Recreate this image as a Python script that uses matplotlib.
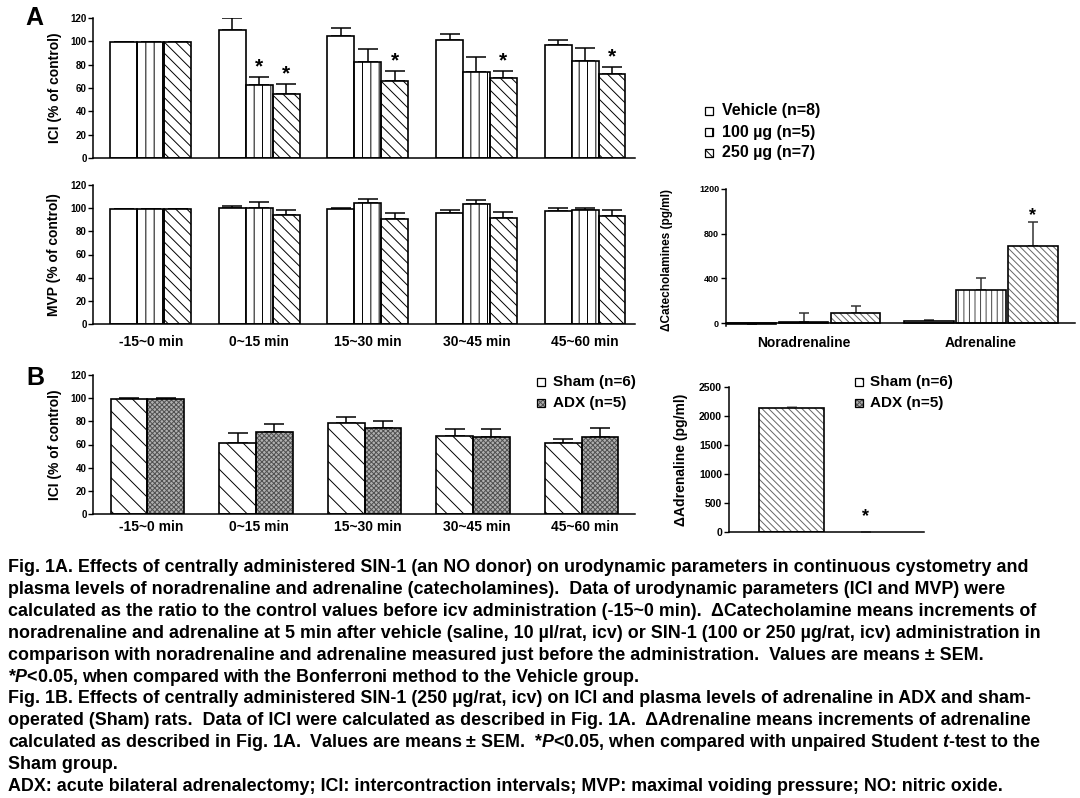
import numpy as np
import matplotlib
matplotlib.use("Agg")
import matplotlib.pyplot as plt
from matplotlib.patches import Rectangle

plt.rcParams['font.family'] = ['Liberation Sans', 'DejaVu Sans']
plt.rcParams['font.weight'] = 'bold'
plt.rcParams['mathtext.fontset'] = 'custom'
plt.rcParams['mathtext.rm'] = 'Liberation Sans:bold'
plt.rcParams['mathtext.it'] = 'Liberation Sans:bold:italic'
plt.rcParams['mathtext.bf'] = 'Liberation Sans:bold'
plt.rcParams['hatch.linewidth'] = 0.7

W, H = 1080, 798

# ---- data ----
periods = ['-15~0 min', '0~15 min', '15~30 min', '30~45 min', '45~60 min']

# Fig 1A, ICI (% of control)
ici_veh = [99.3, 110.0, 104.5, 101.5, 96.5]
ici_veh_sem = [0.5, 10.0, 7.0, 4.5, 5.0]
ici_100 = [99.3, 62.3, 82.4, 73.8, 83.3]
ici_100_sem = [0.5, 7.2, 11.0, 12.6, 11.0]
ici_250 = [99.3, 54.5, 66.0, 68.3, 71.8]
ici_250_sem = [0.5, 9.2, 8.6, 6.6, 6.3]
ici_sig = [(1, 1), (1, 2), (2, 2), (3, 2), (4, 2)]  # (period, group)

# Fig 1A, MVP (% of control)
mvp_veh = [99.0, 99.9, 99.0, 96.0, 97.6]
mvp_veh_sem = [0.3, 2.0, 0.9, 2.0, 2.9]
mvp_100 = [99.0, 99.9, 104.2, 103.6, 98.7]
mvp_100_sem = [0.3, 5.5, 3.7, 3.4, 1.8]
mvp_250 = [99.0, 93.8, 90.9, 91.2, 93.2]
mvp_250_sem = [0.3, 4.3, 5.2, 5.5, 5.5]

# Fig 1A, delta catecholamines (pg/ml)
cat_names = ['Noradrenaline', 'Adrenaline']
cat_veh = [-8, 22]
cat_veh_sem = [3, 3]
cat_100 = [5, 300]
cat_100_sem = [88, 105]
cat_250 = [93, 686]
cat_250_sem = [63, 215]

# Fig 1B, ICI (% of control)
b_sham = [99.3, 61.2, 78.4, 67.2, 60.9]
b_sham_sem = [0.5, 8.8, 5.1, 6.0, 3.7]
b_adx = [99.3, 70.9, 74.6, 66.9, 66.3]
b_adx_sem = [0.5, 6.9, 5.5, 6.6, 7.7]

# Fig 1B, delta adrenaline (pg/ml)
adr_groups = ['Sham', 'ADX']
adr_vals = [2140, 5]
adr_sem = [10, 0]

legend_a = ['Vehicle (n=8)', '100 µg (n=5)', '250 µg (n=7)']
legend_b = ['Sham (n=6)', 'ADX (n=5)']

caption = [
    "Fig. 1A. Effects of centrally administered SIN-1 (an NO donor) on urodynamic parameters in continuous cystometry and",
    "plasma levels of noradrenaline and adrenaline (catecholamines).  Data of urodynamic parameters (ICI and MVP) were",
    "calculated as the ratio to the control values before icv administration (-15~0 min).  ΔCatecholamine means increments of",
    "noradrenaline and adrenaline at 5 min after vehicle (saline, 10 µl/rat, icv) or SIN-1 (100 or 250 µg/rat, icv) administration in",
    "comparison with noradrenaline and adrenaline measured just before the administration.  Values are means ± SEM.",
    r"*$\mathit{P}$<0.05, when compared with the Bonferroni method to the Vehicle group.",
    "Fig. 1B. Effects of centrally administered SIN-1 (250 µg/rat, icv) on ICI and plasma levels of adrenaline in ADX and sham-",
    "operated (Sham) rats.  Data of ICI were calculated as described in Fig. 1A.  ΔAdrenaline means increments of adrenaline",
    r"calculated as described in Fig. 1A.  Values are means ± SEM.  *$\mathit{P}$<0.05, when compared with unpaired Student $\mathit{t}$-test to the",
    "Sham group.",
    "ADX: acute bilateral adrenalectomy; ICI: intercontraction intervals; MVP: maximal voiding pressure; NO: nitric oxide.",
]

# bar styles: (face, hatch, hatch colour)
STY_VEH = ('white', None, 'k')
STY_100 = ('white', '||', 'k')
STY_250 = ('white', '\\\\\\', 'k')
STY_SHAM = ('white', '\\\\', 'k')
STY_ADX = ('#b0b0b0', 'xxxxxxx', '#505050')

fig = plt.figure(figsize=(W / 100, H / 100), dpi=100)


def px_axes(left, top, right, bottom):
    return fig.add_axes([left / W, 1 - bottom / H, (right - left) / W, (bottom - top) / H])


def style(ax, lsize=7):
    for s in ['top', 'right']:
        ax.spines[s].set_visible(False)
    for s in ['left', 'bottom']:
        ax.spines[s].set_linewidth(1.1)
    ax.tick_params(axis='y', direction='out', length=3.5, width=1.0, labelsize=lsize, pad=1.5)
    ax.tick_params(axis='x', length=0)


def bars(ax, x, h, w, sty, lw=1.2):
    face, hatch, hcol = sty
    if hatch:
        ax.bar(x, h, w, color=face, edgecolor=hcol, hatch=hatch, linewidth=0, zorder=2)
        ax.bar(x, h, w, fill=False, edgecolor='k', linewidth=lw, zorder=3)
    else:
        ax.bar(x, h, w, color=face, edgecolor='k', linewidth=lw, zorder=2)


def errs(ax, x, h, e, cap=7, col='k'):
    h = np.asarray(h, float)
    e = np.asarray(e, float)
    ax.errorbar(x, h, yerr=[np.zeros_like(e), e], fmt='none', ecolor=col,
                elinewidth=1.1, capsize=cap, capthick=1.1, zorder=1)


def star(ax, x, y, dy=3.0, size=15):
    ax.annotate('*', xy=(x, y), xytext=(0, dy), textcoords='offset points',
                ha='center', va='baseline', fontsize=size, fontweight='bold')


xi = np.arange(len(periods))
bw = 0.248
xl = (-0.527, 4.46)
LX, RX = 93.5, 635
LBL = 10

# ---- A: ICI ----
ax1 = px_axes(LX, 18, RX, 158)
groups = [(ici_veh, ici_veh_sem, STY_VEH), (ici_100, ici_100_sem, STY_100), (ici_250, ici_250_sem, STY_250)]
for k, (v, e, s) in enumerate(groups):
    xs = xi + (k - 1) * bw
    errs(ax1, xs, v, e)
    bars(ax1, xs, v, bw, s)
for p, g in ici_sig:
    v, e, _ = groups[g]
    star(ax1, p + (g - 1) * bw, v[p] + e[p])
ax1.set_xlim(*xl)
ax1.set_ylim(0, 120)
ax1.set_yticks(range(0, 121, 20))
ax1.set_xticks([])
style(ax1)
ax1.set_ylabel('ICI (% of control)', fontsize=LBL, fontweight='bold')
ax1.yaxis.set_label_coords((62 - LX) / (RX - LX), 0.5)

# ---- A: MVP ----
ax2 = px_axes(LX, 185, RX, 324)
groups = [(mvp_veh, mvp_veh_sem, STY_VEH), (mvp_100, mvp_100_sem, STY_100), (mvp_250, mvp_250_sem, STY_250)]
for k, (v, e, s) in enumerate(groups):
    xs = xi + (k - 1) * bw
    errs(ax2, xs, v, e)
    bars(ax2, xs, v, bw, s)
ax2.set_xlim(*xl)
ax2.set_ylim(0, 120)
ax2.set_yticks(range(0, 121, 20))
ax2.set_xticks(xi)
ax2.set_xticklabels(periods, fontsize=LBL, fontweight='bold')
style(ax2)
ax2.tick_params(axis='x', pad=8)
ax2.set_ylabel('MVP (% of control)', fontsize=LBL, fontweight='bold')
ax2.yaxis.set_label_coords((61 - LX) / (RX - LX), 0.5)

# ---- A: catecholamines ----
ax3 = px_axes(726, 189, 1075, 326.4)
ci = np.arange(len(cat_names))
cw = 0.28
cstep = 0.293
STY_C100 = ('white', '|||', '#444444')
STY_C250 = ('white', '\\\\\\\\\\', '#666666')
cgroups = [(cat_veh, cat_veh_sem, STY_VEH), (cat_100, cat_100_sem, STY_C100), (cat_250, cat_250_sem, STY_C250)]
for k, (v, e, s) in enumerate(cgroups):
    xs = ci + (k - 1) * cstep
    errs(ax3, xs, v, e, cap=3.5, col='#333333')
    bars(ax3, xs, v, cw, s)
star(ax3, 1 + cstep, cat_250[1] + cat_250_sem[1], dy=2, size=13)
ax3.set_xlim(-0.437, 1.53)
ax3.set_ylim(-30, 1200)
ax3.set_yticks([0, 400, 800, 1200])
ax3.set_xticks(ci)
ax3.set_xticklabels(cat_names, fontsize=7.6, fontweight='bold')
style(ax3, lsize=6.5)
ax3.spines['bottom'].set_position(('data', 0))
ax3.tick_params(axis='x', pad=9)
ax3.set_ylabel('ΔCatecholamines (pg/ml)', fontsize=8.5, fontweight='bold')
ax3.yaxis.set_label_coords((673 - 726) / 349, 0.48)

# ---- B: ICI ----
ax4 = px_axes(LX, 375, RX, 514)
bw2 = 0.338
for k, (v, e, s) in enumerate([(b_sham, b_sham_sem, STY_SHAM), (b_adx, b_adx_sem, STY_ADX)]):
    xs = xi - 0.2 + k * bw2
    errs(ax4, xs, v, e)
    bars(ax4, xs, v, bw2, s)
ax4.set_xlim(*xl)
ax4.set_ylim(0, 120)
ax4.set_yticks(range(0, 121, 20))
ax4.set_xticks(xi)
ax4.set_xticklabels(periods, fontsize=LBL, fontweight='bold')
style(ax4)
ax4.tick_params(axis='x', pad=4.3)
ax4.set_ylabel('ICI (% of control)', fontsize=LBL, fontweight='bold')
ax4.yaxis.set_label_coords((62 - LX) / (RX - LX), 0.5)

# ---- B: adrenaline ----
ax5 = px_axes(729, 387, 924, 532)
ai = np.arange(len(adr_groups))
STY_ASHAM = ('white', '\\\\\\\\\\', '#666666')
errs(ax5, ai, adr_vals, adr_sem, cap=3.5, col='#888888')
bars(ax5, ai[:1], adr_vals[:1], 0.88, STY_ASHAM)
star(ax5, 1, 0, dy=8, size=13)
ax5.set_xlim(-0.845, 1.79)
ax5.set_ylim(0, 2500)
ax5.set_yticks(range(0, 2501, 500))
ax5.set_xticks([])
style(ax5, lsize=7.5)
ax5.set_ylabel('ΔAdrenaline (pg/ml)', fontsize=10, fontweight='bold')
ax5.yaxis.set_label_coords((688 - 729) / 195, 0.5)


# ---- legends (drawn by hand) ----
def legend(items, styles, xsq, xtxt, ys, size=11.5):
    for txt, s, y in zip(items, styles, ys):
        face, hatch, hcol = s
        r = Rectangle((xsq / W, 1 - (y + 4) / H), 8 / W, 8 / H, transform=fig.transFigure,
                      facecolor=face, edgecolor=hcol if hatch else 'k', hatch=hatch, linewidth=0)
        fig.add_artist(r)
        fig.add_artist(Rectangle((xsq / W, 1 - (y + 4) / H), 8 / W, 8 / H, transform=fig.transFigure,
                                 fill=False, edgecolor='k', linewidth=0.9))
        fig.text(xtxt / W, 1 - y / H, txt, fontsize=size, fontweight='bold', va='center', ha='left')


legend(legend_a, [STY_VEH, STY_100, STY_250], 705, 722, [111, 132, 153])
legend(legend_b, [STY_SHAM, STY_ADX], 537, 553, [382, 403], size=11)
legend(legend_b, [STY_SHAM, STY_ADX], 855, 870, [382, 403], size=11)

# panel letters
fig.text(25 / W, 1 - 25 / H, 'A', fontsize=18, fontweight='bold', va='baseline')
fig.text(26 / W, 1 - 385 / H, 'B', fontsize=18, fontweight='bold', va='baseline')

# caption
for i, line in enumerate(caption):
    fig.text(8 / W, 1 - (572 + 21.9 * i) / H, line, fontsize=12.9, fontweight='bold',
             va='baseline', ha='left')

fig.savefig('out.png', dpi=100)
